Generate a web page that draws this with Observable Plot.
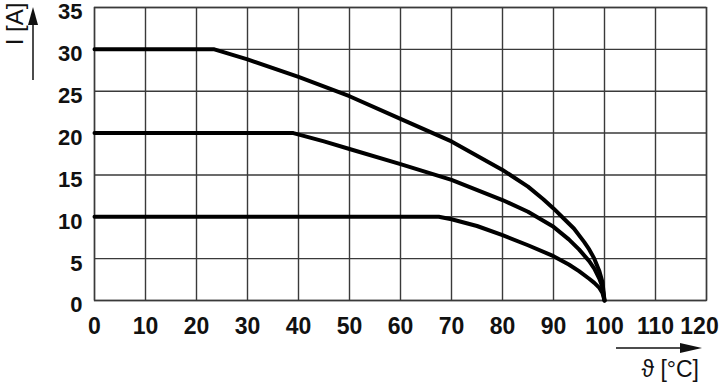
<!DOCTYPE html>
<html><head><meta charset="utf-8">
<script src="https://cdn.jsdelivr.net/npm/d3@7"></script>
<script src="https://cdn.jsdelivr.net/npm/@observablehq/plot@0.6"></script>
<style>body{margin:0;background:#fff}</style>
</head><body><div id="chart"></div>
<script>
// Tick values
const xTicks = [0, 10, 20, 30, 40, 50, 60, 70, 80, 90, 100, 110, 120];
const yTicks = [0, 5, 10, 15, 20, 25, 30, 35];

// Derating curves: temperature (°C) and current (A)
const temps30 = [0, 23.5, 30, 40, 50, 60, 70, 80, 85, 88, 90, 92, 94, 96, 97, 98, 99, 99.6, 100];
const amps30  = [30, 30, 28.8, 26.7, 24.4, 21.7, 19.0, 15.6, 13.6, 12.1, 11.0, 9.8, 8.6, 7.0, 6.1, 5.0, 3.5, 2.2, 0];

const temps20 = [0, 39, 45, 50, 60, 70, 80, 85, 90, 93, 95, 97, 98, 99, 99.6, 100];
const amps20  = [20, 20, 19.0, 18.1, 16.3, 14.4, 12.0, 10.6, 8.8, 7.3, 6.1, 4.7, 3.8, 2.6, 1.6, 0];

const temps10 = [0, 67.5, 70, 75, 80, 85, 90, 93, 95, 97, 98, 99, 99.6, 100];
const amps10  = [10, 10, 9.7, 8.9, 7.8, 6.6, 5.3, 4.3, 3.5, 2.6, 2.1, 1.5, 0.9, 0];

const seriesNames = ["30 A", "20 A", "10 A"];

const rows = [];
[[temps30, amps30], [temps20, amps20], [temps10, amps10]].forEach(([ts, as], k) => {
  ts.forEach((t, i) => rows.push({series: seriesNames[k], t, i: as[i]}));
});

const gridColor = "#3a3a3a";

const chart = Plot.plot({
  width: 720,
  height: 385,
  marginLeft: 94,
  marginRight: 14,
  marginTop: 7,
  marginBottom: 85,
  x: {domain: [0, 120], ticks: xTicks, tickSize: 0, tickPadding: 17, label: null, tickFormat: d => String(d)},
  y: {domain: [0, 35], ticks: yTicks, tickSize: 0, tickPadding: 12, label: null, tickFormat: d => String(d)},
  style: {
    fontFamily: "'Liberation Sans', Arial, sans-serif",
    fontSize: "23px",
    fontWeight: "bold",
    color: "#111",
    background: "#fff",
    overflow: "visible"
  },
  marks: [
    Plot.ruleX(xTicks, {stroke: gridColor, strokeWidth: 1.4}),
    Plot.ruleY(yTicks, {stroke: gridColor, strokeWidth: 1.4}),
    Plot.frame({stroke: gridColor, strokeWidth: 1.4}),
    Plot.line(rows, {x: "t", y: "i", z: "series", stroke: "#000", strokeWidth: 4, strokeLinejoin: "round", strokeLinecap: "round"})
  ]
});

document.getElementById("chart").appendChild(chart);

const svg = d3.select(chart);

// Nudge tick labels as in the reference: y labels sit slightly below their lines,
// and the last x label is pulled in so it fits the window.
svg.selectAll('g[aria-label^="y-axis"] text').attr("dy", "0.22em").attr("font-size", 22);
const xLabels = svg.selectAll('g[aria-label^="x-axis"] text').nodes()
  .filter(n => n.textContent === String(xTicks[xTicks.length - 1]));
xLabels.forEach(n => n.setAttribute("dx", -7));

// Axis captions with arrows
const g = svg.append("g")
  .attr("font-family", "'Liberation Sans', Arial, sans-serif")
  .attr("font-weight", "normal")
  .attr("fill", "#111");

g.append("text")
  .attr("transform", "translate(14,24) rotate(-90)")
  .attr("text-anchor", "middle")
  .attr("dominant-baseline", "central")
  .attr("font-size", 24)
  .text("I [A]");

g.append("line").attr("x1", 33).attr("x2", 33).attr("y1", 80).attr("y2", 22)
  .attr("stroke", "#111").attr("stroke-width", 1.5);
g.append("polygon").attr("points", "33,7 28,25 38,25").attr("fill", "#111");

g.append("line").attr("x1", 616).attr("x2", 684).attr("y1", 348).attr("y2", 348)
  .attr("stroke", "#111").attr("stroke-width", 1.5);
g.append("polygon").attr("points", "702,348 680,343 680,353").attr("fill", "#111");

g.append("text")
  .attr("x", 699).attr("y", 377)
  .attr("text-anchor", "end")
  .attr("font-size", 23)
  .text("ϑ [°C]");
</script>
</body></html>
